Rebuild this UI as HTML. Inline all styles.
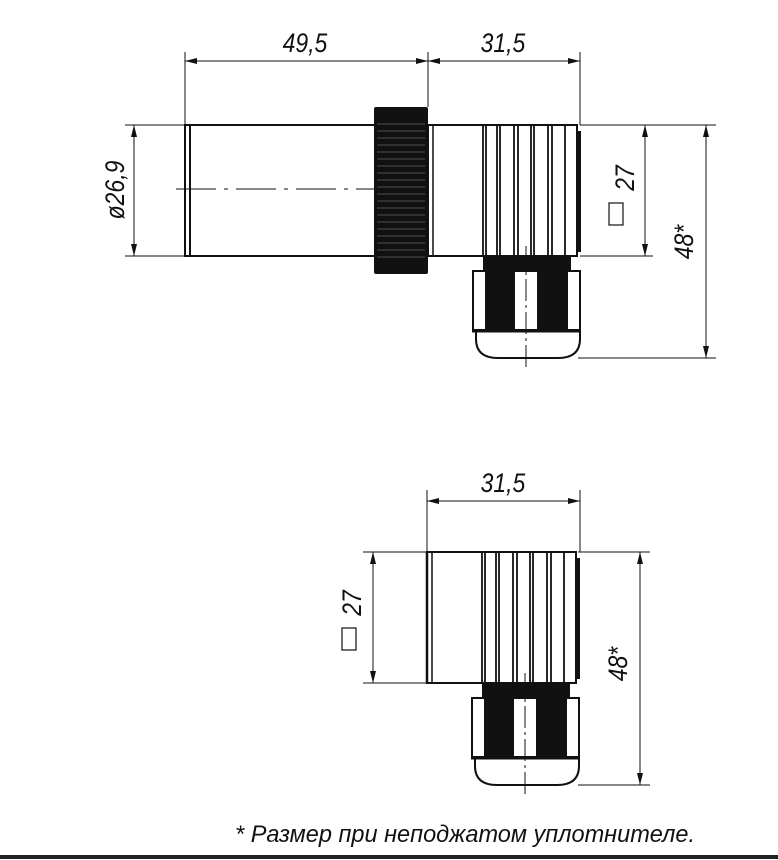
<!DOCTYPE html>
<html><head><meta charset="utf-8"><style>
html,body{margin:0;padding:0;background:#fff}
svg{display:block}
text{font-family:"Liberation Sans","DejaVu Sans",sans-serif;font-style:italic;fill:#111}
</style></head><body>
<svg width="778" height="860" viewBox="0 0 778 860" xmlns="http://www.w3.org/2000/svg">
<defs>
<marker id="a" viewBox="0 0 12 6" refX="12" refY="3" markerWidth="12" markerHeight="6" orient="auto-start-reverse" markerUnits="userSpaceOnUse"><path d="M0,0 L12,3 L0,6 Z" fill="#111"/></marker>
<g id="conn">
<rect x="0" y="0" width="149" height="131" fill="#fff" stroke="#111" stroke-width="2"/>
<line x1="5" y1="0" x2="5" y2="131" stroke="#111" stroke-width="1.5"/>
<g stroke="#111" stroke-width="1.8">
<line x1="55" y1="0" x2="55" y2="131"/><line x1="58" y1="0" x2="58" y2="131"/>
<line x1="69" y1="0" x2="69" y2="131"/><line x1="72" y1="0" x2="72" y2="131"/>
<line x1="86" y1="0" x2="86" y2="131"/><line x1="90" y1="0" x2="90" y2="131"/>
<line x1="103" y1="0" x2="103" y2="131"/><line x1="106" y1="0" x2="106" y2="131"/>
<line x1="120" y1="0" x2="120" y2="131"/><line x1="124" y1="0" x2="124" y2="131"/>
<line x1="137" y1="0" x2="137" y2="131"/>
</g>
<rect x="150" y="6" width="3" height="121" fill="#111"/>
<rect x="55" y="131" width="88" height="16" fill="#111"/>
<rect x="45" y="146" width="107" height="59" fill="#fff" stroke="#111" stroke-width="2"/>
<rect x="57" y="146" width="30" height="59" fill="#111"/>
<rect x="109" y="146" width="31" height="59" fill="#111"/>
<path d="M48 206 L48 214 Q48 233 70 233 L130 233 Q152 233 152 214 L152 206" fill="#fff" stroke="#111" stroke-width="2"/>
<line x1="44" y1="206" x2="153" y2="206" stroke="#111" stroke-width="3"/>
<line x1="98" y1="121" x2="98" y2="243" stroke="#111" stroke-width="1" stroke-dasharray="22,4,3,4"/>
</g>
</defs>

<!-- TOP VIEW -->
<rect x="185" y="125" width="190" height="131" fill="#fff" stroke="#111" stroke-width="2"/>
<line x1="190" y1="125" x2="190" y2="256" stroke="#111" stroke-width="2"/>
<line x1="176" y1="189" x2="436" y2="189" stroke="#111" stroke-width="1" stroke-dasharray="40,8,4,8"/>
<rect x="374" y="107" width="54" height="167" fill="#111" rx="2"/>
<g stroke="#666" stroke-width="0.7">
<line x1="377" y1="124" x2="425" y2="124"/><line x1="377" y1="131" x2="425" y2="131"/><line x1="377" y1="138" x2="425" y2="138"/><line x1="377" y1="145" x2="425" y2="145"/><line x1="377" y1="152" x2="425" y2="152"/><line x1="377" y1="159" x2="425" y2="159"/><line x1="377" y1="166" x2="425" y2="166"/><line x1="377" y1="173" x2="425" y2="173"/><line x1="377" y1="180" x2="425" y2="180"/><line x1="377" y1="187" x2="425" y2="187"/><line x1="377" y1="194" x2="425" y2="194"/><line x1="377" y1="201" x2="425" y2="201"/><line x1="377" y1="208" x2="425" y2="208"/><line x1="377" y1="215" x2="425" y2="215"/><line x1="377" y1="222" x2="425" y2="222"/><line x1="377" y1="229" x2="425" y2="229"/><line x1="377" y1="236" x2="425" y2="236"/><line x1="377" y1="243" x2="425" y2="243"/><line x1="377" y1="250" x2="425" y2="250"/><line x1="377" y1="257" x2="425" y2="257"/>
</g>
<use href="#conn" x="428" y="125"/>

<g stroke="#111" stroke-width="1" fill="none">
<line x1="185" y1="52" x2="185" y2="125"/>
<line x1="428" y1="52" x2="428" y2="107"/>
<line x1="580" y1="52" x2="580" y2="125"/>
<line x1="185" y1="61" x2="428" y2="61" marker-start="url(#a)" marker-end="url(#a)"/>
<line x1="428" y1="61" x2="580" y2="61" marker-start="url(#a)" marker-end="url(#a)"/>
<line x1="125" y1="125" x2="185" y2="125"/>
<line x1="125" y1="256" x2="185" y2="256"/>
<line x1="134" y1="125" x2="134" y2="256" marker-start="url(#a)" marker-end="url(#a)"/>
<line x1="580" y1="125" x2="716" y2="125"/>
<line x1="580" y1="256" x2="653" y2="256"/>
<line x1="578" y1="358" x2="716" y2="358"/>
<line x1="645" y1="125" x2="645" y2="256" marker-start="url(#a)" marker-end="url(#a)"/>
<line x1="706" y1="125" x2="706" y2="358" marker-start="url(#a)" marker-end="url(#a)"/>
</g>
<text x="305" y="52" font-size="27" text-anchor="middle" transform="translate(305,0) scale(0.85,1) translate(-305,0)">49,5</text>
<text x="503" y="52" font-size="27" text-anchor="middle" transform="translate(503,0) scale(0.85,1) translate(-503,0)">31,5</text>
<text font-size="27" text-anchor="middle" transform="translate(124,190) rotate(-90) scale(0.85,1)">ø26,9</text>
<rect x="609" y="203" width="14" height="22" fill="none" stroke="#111" stroke-width="1.2"/>
<text font-size="27" text-anchor="middle" transform="translate(634,178) rotate(-90) scale(0.85,1)">27</text>
<text font-size="27" text-anchor="middle" transform="translate(693,242) rotate(-90) scale(0.85,1)">48*</text>

<!-- BOTTOM VIEW -->
<use href="#conn" x="427" y="552"/>
<line x1="427" y1="552" x2="427" y2="683" stroke="#111" stroke-width="2.5"/>
<g stroke="#111" stroke-width="1" fill="none">
<line x1="427" y1="490" x2="427" y2="552"/>
<line x1="580" y1="490" x2="580" y2="552"/>
<line x1="427" y1="501" x2="580" y2="501" marker-start="url(#a)" marker-end="url(#a)"/>
<line x1="363" y1="552" x2="427" y2="552"/>
<line x1="363" y1="683" x2="427" y2="683"/>
<line x1="373" y1="552" x2="373" y2="683" marker-start="url(#a)" marker-end="url(#a)"/>
<line x1="578" y1="552" x2="650" y2="552"/>
<line x1="578" y1="785" x2="650" y2="785"/>
<line x1="640" y1="552" x2="640" y2="785" marker-start="url(#a)" marker-end="url(#a)"/>
</g>
<text x="503" y="492" font-size="27" text-anchor="middle" transform="translate(503,0) scale(0.85,1) translate(-503,0)">31,5</text>
<rect x="342" y="628" width="14" height="22" fill="none" stroke="#111" stroke-width="1.2"/>
<text font-size="27" text-anchor="middle" transform="translate(361,603) rotate(-90) scale(0.85,1)">27</text>
<text font-size="27" text-anchor="middle" transform="translate(627,664) rotate(-90) scale(0.85,1)">48*</text>

<text x="235" y="842" font-size="24" transform="translate(235,0) scale(1.0,1) translate(-235,0)" textLength="460" lengthAdjust="spacingAndGlyphs">* Размер при неподжатом уплотнителе.</text>
<rect x="0" y="855" width="778" height="4" fill="#222"/>
</svg>
</body></html>
